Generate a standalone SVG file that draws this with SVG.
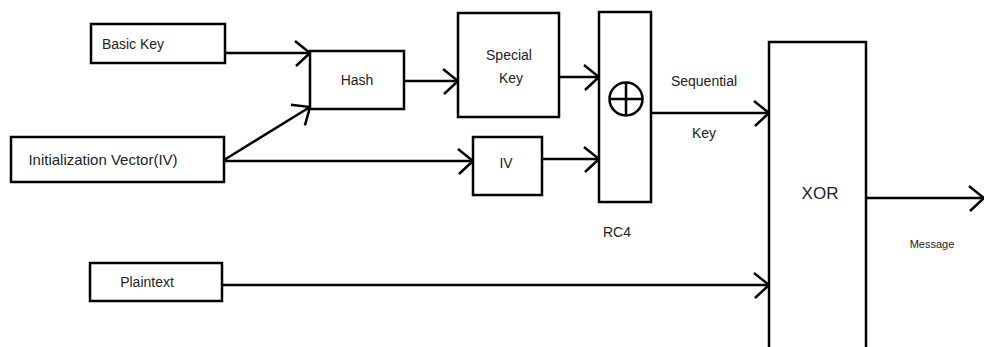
<svg xmlns="http://www.w3.org/2000/svg" width="984" height="347" viewBox="0 0 984 347">
<style>
.box{fill:#fff;stroke:#000;stroke-width:2.5}
.t{font-family:"Liberation Sans",Arial,sans-serif;font-size:14px;fill:#222;text-anchor:middle;dominant-baseline:central}
.c{fill:none;stroke:#000;stroke-width:2.5}
.a{marker-end:url(#arr)}
</style>
<defs>
<marker id="arr" markerUnits="userSpaceOnUse" markerWidth="24" markerHeight="32" refX="19" refY="16" orient="auto" overflow="visible">
<path d="M4,4 L19,16 L5,29" fill="none" stroke="#000" stroke-width="2.5"/>
</marker>
</defs>
<rect width="984" height="347" fill="#fff"/>
<g id="connectors">
<path class="c a" d="M225,53 L310,53"/>
<path class="c a" d="M224,160 L310,107"/>
<path class="c a" d="M224,161 L473,161"/>
<path class="c a" d="M404,81 L458,81"/>
<path class="c a" d="M559,77 L599,77"/>
<path class="c a" d="M542,159 L599,159"/>
<path class="c a" d="M651,113 L769,113"/>
<path class="c a" d="M222,285 L769,285"/>
<path class="c a" d="M866,198 L984,198"/>
</g>
<g id="basic-key"><rect class="box" x="91" y="24" width="134" height="39"/><text class="t" x="133" y="44">Basic Key</text></g>
<g id="init-vector"><rect class="box" x="11" y="137" width="213" height="45"/><text class="t" x="103" y="159" style="font-size:15px">Initialization Vector(IV)</text></g>
<g id="plaintext"><rect class="box" x="90" y="263" width="132" height="38"/><text class="t" x="147" y="282">Plaintext</text></g>
<g id="hash"><rect class="box" x="310" y="51" width="94" height="58"/><text class="t" x="357" y="80">Hash</text></g>
<g id="special-key"><rect class="box" x="458" y="13" width="101" height="104"/><text class="t" x="509" y="55">Special</text><text class="t" x="511" y="78">Key</text></g>
<g id="iv"><rect class="box" x="473" y="137" width="69" height="58"/><text class="t" x="506" y="163">IV</text></g>
<g id="rc4"><rect class="box" x="599" y="12" width="52" height="190"/>
<circle cx="626" cy="99" r="16.5" fill="none" stroke="#000" stroke-width="2.5"/>
<path d="M626,82 L626,116 M609.5,99 L642.5,99" stroke="#000" stroke-width="2.5"/>
<text class="t" x="617" y="232">RC4</text></g>
<g id="seq-label"><text class="t" x="704" y="81">Sequential</text><text class="t" x="704" y="133">Key</text></g>
<g id="xor"><rect class="box" x="769" y="42" width="97" height="320"/><text class="t" x="820" y="193" style="font-size:17px">XOR</text></g>
<g id="message-label"><text class="t" x="932" y="244" style="font-size:11px">Message</text></g>
</svg>
